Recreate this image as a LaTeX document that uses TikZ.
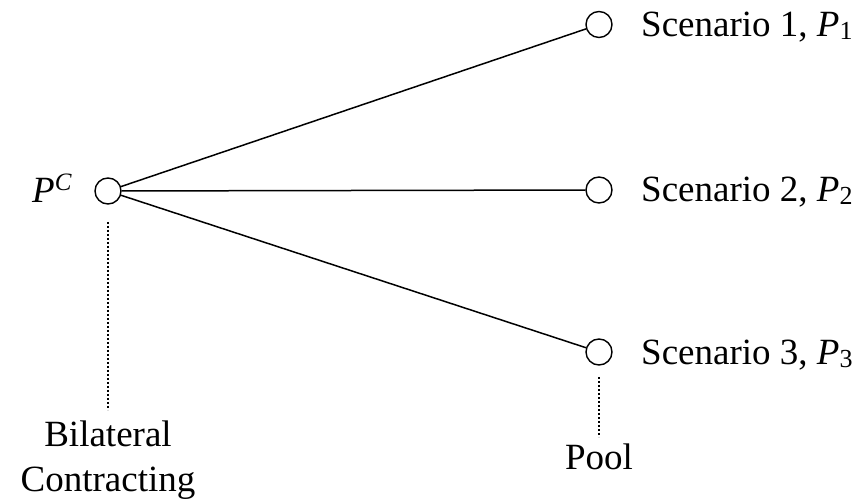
\documentclass[tikz,border=0pt]{standalone}
\usepackage{fontspec}
\setmainfont{Liberation Serif}
\newcommand{\sbs}[1]{\raisebox{-3pt}{\fontsize{26}{26}\selectfont #1}}
\newcommand{\sps}[1]{\raisebox{12pt}{\fontsize{25}{25}\selectfont\itshape #1}}
\begin{document}
\begin{tikzpicture}[x=1pt,y=1pt,
  st/.style={circle,draw,line width=1.4pt,minimum size=26pt,inner sep=0pt},
  lbl/.style={inner sep=0pt,font=\fontsize{37}{45}\selectfont},
  edge/.style={line width=1.5pt},
  dotline/.style={line width=2.6pt,dash pattern=on 2.4pt off 1.6pt}]
\useasboundingbox (0,0) rectangle (867,503);
\node[st] (pc) at (108,312) {};
\node[st] (s1) at (599,478.5) {};
\node[st] (s2) at (599,313) {};
\node[st] (s3) at (599,151) {};
\node[lbl,anchor=base west] (pcl) at (32,300) {\textit{P}\sps{C}};
\node[lbl,anchor=base west] (t1) at (641,466) {Scenario 1, \textit{P}\sbs{1}};
\node[lbl,anchor=base west] (t2) at (641,301) {Scenario 2, \textit{P}\sbs{2}};
\node[lbl,anchor=base west] (t3) at (641,138) {Scenario 3, \textit{P}\sbs{3}};
\node[lbl,anchor=base] (bil) at (108,56) {Bilateral};
\node[lbl,anchor=base] (con) at (108,11) {Contracting};
\node[lbl,anchor=base] (pool) at (599,33) {Pool};
\draw[edge] (pc) -- (s1);
\draw[edge] (pc) -- (s2);
\draw[edge] (pc) -- (s3);
\coordinate (d1a) at (108,281);
\coordinate (d1b) at (108,93);
\coordinate (d2a) at (599,126);
\coordinate (d2b) at (599,66);
\draw[dotline] (d1a) -- (d1b);
\draw[dotline] (d2a) -- (d2b);
\end{tikzpicture}
\end{document}
